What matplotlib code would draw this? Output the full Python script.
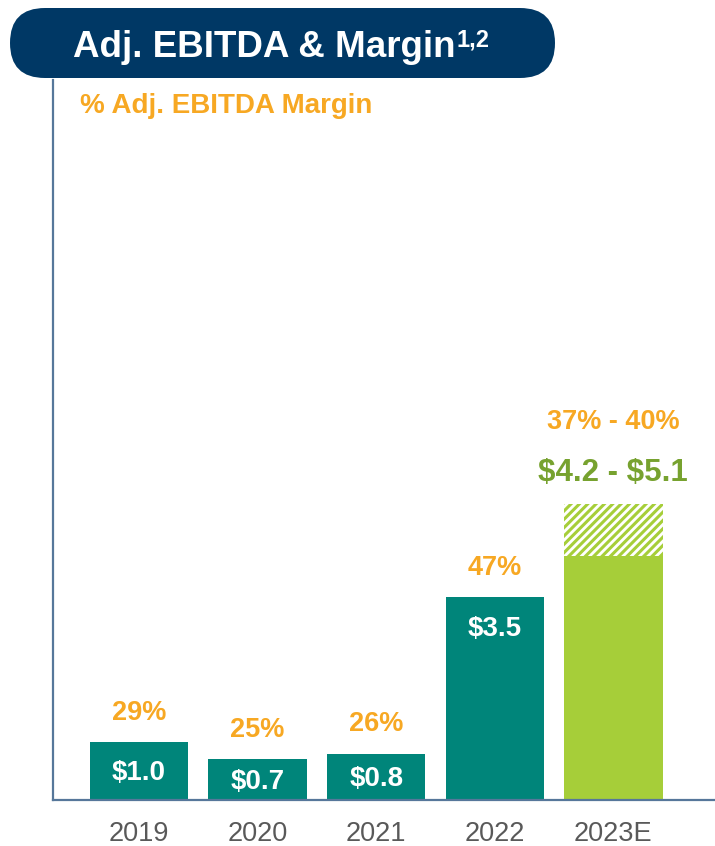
import matplotlib
matplotlib.use("Agg")
import matplotlib.pyplot as plt
from matplotlib.patches import FancyBboxPatch

plt.rcParams['font.family'] = ['Liberation Sans', 'DejaVu Sans']
plt.rcParams['hatch.linewidth'] = 2.2

# ---- data ----
years = ["2019", "2020", "2021", "2022"]
ebitda = [1.0, 0.7, 0.8, 3.5]
margins = ["29%", "25%", "26%", "47%"]
est_year = "2023E"
est_low = 4.2
est_high = 5.1
est_margin = "37% - 40%"
title = "Adj. EBITDA & Margin"
title_sup = "1,2"
subtitle = "% Adj. EBITDA Margin"

# ---- style ----
TEAL = "#00857A"
LIME = "#A6CE39"
OLIVE = "#77A22F"
ORANGE = "#F7A823"
NAVY = "#003865"
AXIS = "#56779A"
GRAY = "#595959"

W, H = 715, 846
fig = plt.figure(figsize=(W / 100, H / 100), dpi=100)

ax_left, ax_bottom_px, ax_top_px = 53, 800, 80
ax = fig.add_axes([ax_left / W, (H - ax_bottom_px) / H, 1 - ax_left / W,
                   (ax_bottom_px - ax_top_px) / H])

x = list(range(len(years)))
xe = len(years)
width = 0.83

ax.bar(x, ebitda, width=width, color=TEAL, zorder=1)
ax.bar([xe], [est_low], width=width, color=LIME, zorder=1)
ax.bar([xe], [est_high - est_low], bottom=[est_low], width=width,
       facecolor="white", edgecolor=LIME, hatch="////", linewidth=0, zorder=1)

ax.set_xlim(-0.725, 4.857)
ax.set_ylim(0, 12.41)

for xi, v, m in zip(x, ebitda, margins):
    ax.annotate(m, (xi, v), xytext=(0, 21), textcoords="offset points",
                ha="center", va="center", color=ORANGE, fontsize=19.5,
                fontweight="bold")
    ly = max(v - 0.56, v / 2 - 0.04)
    ax.text(xi, ly, f"\\${v:.1f}", ha="center", va="center", color="white",
            fontsize=20, fontweight="bold")

ax.annotate(f"\\${est_low:.1f} - \\${est_high:.1f}", (xe, est_high), xytext=(0, 22.5),
            textcoords="offset points", ha="center", va="center", color=OLIVE,
            fontsize=22.5, fontweight="bold")
ax.annotate(est_margin, (xe, est_high), xytext=(0, 59), textcoords="offset points",
            ha="center", va="center", color=ORANGE, fontsize=19.5, fontweight="bold")

ax.set_xticks(x + [xe])
ax.set_xticklabels(years + [est_year], fontsize=19.5, color=GRAY)
ax.tick_params(axis="x", length=0, pad=15)
ax.set_yticks([])
for s in ["top", "right"]:
    ax.spines[s].set_visible(False)
for s in ["left", "bottom"]:
    ax.spines[s].set_color(AXIS)
    ax.spines[s].set_linewidth(1.6)

# ---- overlay for title ----
ov = fig.add_axes([0, 0, 1, 1], zorder=5)
ov.set_xlim(0, W)
ov.set_ylim(H, 0)
ov.axis("off")
ov.patch.set_alpha(0)
pill = FancyBboxPatch((10, 8), 545, 70, boxstyle="round,pad=0,rounding_size=35",
                      facecolor=NAVY, edgecolor="none")
ov.add_patch(pill)
t = ov.text(73, 57, title, color="white", fontsize=26.5, fontweight="bold",
            ha="left", va="baseline")
ov.annotate(title_sup, xy=(1, 1), xycoords=t, xytext=(1, 1),
            textcoords="offset points", color="white", fontsize=17,
            fontweight="bold", ha="left", va="top")
ov.text(80, 106, subtitle, color=ORANGE, fontsize=20, fontweight="bold",
        ha="left", va="center")

fig.savefig("out.png", dpi=100)
